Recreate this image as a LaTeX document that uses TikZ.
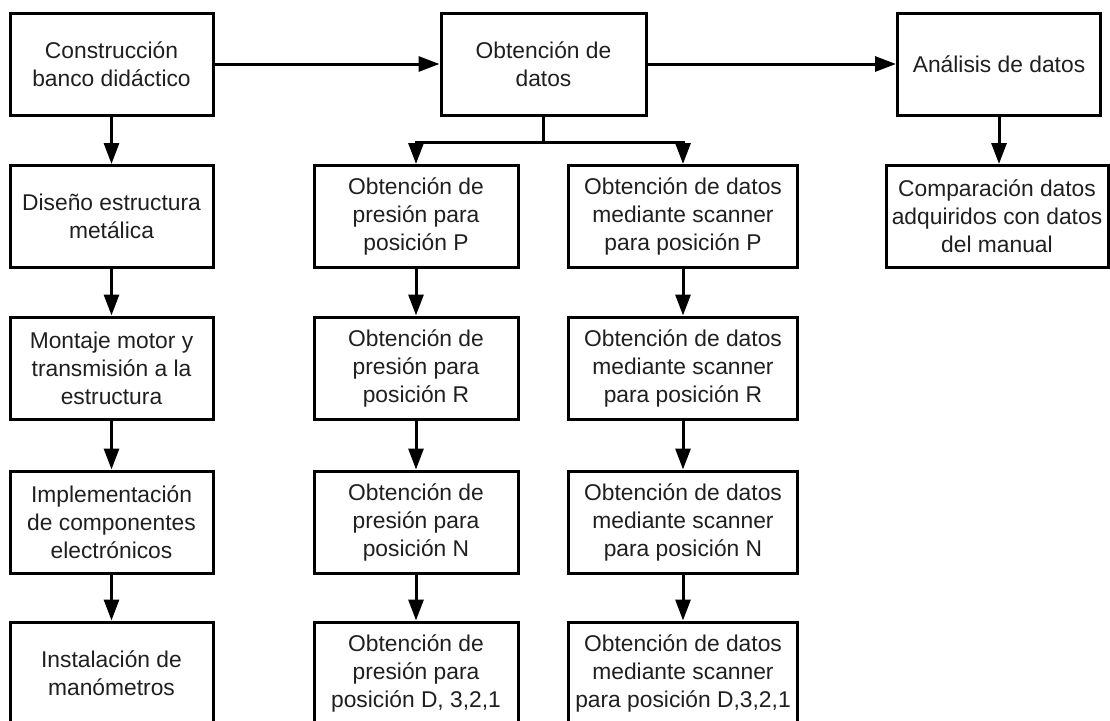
\documentclass[tikz,border=0pt]{standalone}
\usepackage{fontspec}
\setmainfont{Liberation Sans}
\usetikzlibrary{arrows.meta}
\begin{document}
\begin{tikzpicture}[x=1pt,y=-1pt,
  box/.style={draw=black, line width=3pt, align=center, inner sep=0pt,
    minimum height=102pt, text=black!88,
    font=\fontsize{22.8}{28}\selectfont},
  w1/.style={box, minimum width=203pt},
  w2/.style={box, minimum width=229pt},
  conn/.style={line width=3pt, line join=miter},
  arr/.style={conn, -{Triangle[length=21pt,width=15pt]}}
]
\useasboundingbox (0,0) rectangle (1110,720);
% top row
\node[w1] (cons) at (111.5,64) {Construcción\\banco didáctico};
\node[box, minimum width=205pt] (obt) at (543.5,64) {Obtención de\\datos};
\node[w1] (ana) at (999,64) {Análisis de datos};
% column 1
\node[w1] (dis) at (111.5,216.5) {Diseño estructura\\metálica};
\node[w1] (mon) at (111.5,368) {Montaje motor y\\transmisión a la\\estructura};
\node[w1] (imp) at (111.5,522) {Implementación\\de componentes\\electrónicos};
\node[w1] (ins) at (111.5,673) {Instalación de\\manómetros};
% column 2
\node[box, minimum width=204pt] (p1) at (416,216.5) {Obtención de\\presión para\\posición P};
\node[box, minimum width=204pt] (p2) at (416,368) {Obtención de\\presión para\\posición R};
\node[box, minimum width=204pt] (p3) at (416,522) {Obtención de\\presión para\\posición N};
\node[box, minimum width=204pt] (p4) at (416,673) {Obtención de\\presión para\\posición D, 3,2,1};
% column 3
\node[w2] (s1) at (683,216.5) {Obtención de datos\\mediante scanner\\para posición P};
\node[w2] (s2) at (683,368) {Obtención de datos\\mediante scanner\\para posición R};
\node[w2] (s3) at (683,522) {Obtención de datos\\mediante scanner\\para posición N};
\node[w2] (s4) at (683,673) {Obtención de datos\\mediante scanner\\para posición D,3,2,1};
% analysis
\node[box, minimum width=222pt] (cmp) at (997,216.5) {Comparación datos\\adquiridos con datos\\del manual};
% connectors
\draw[arr] (cons.east) -- (obt.west);
\draw[arr] (obt.east) -- (ana.west);
\draw[arr] (ana.south) -- (ana.south |- cmp.north);
\draw[arr] (cons) -- (dis);
\draw[arr] (dis) -- (mon);
\draw[arr] (mon) -- (imp);
\draw[arr] (imp) -- (ins);
\draw[conn] (obt.south) -- ++(0,26) coordinate (br);
\draw[arr] (br) -| (p1.north);
\draw[arr] (br) -| (s1.north);
\draw[arr] (p1) -- (p2);
\draw[arr] (p2) -- (p3);
\draw[arr] (p3) -- (p4);
\draw[arr] (s1) -- (s2);
\draw[arr] (s2) -- (s3);
\draw[arr] (s3) -- (s4);
\end{tikzpicture}
\end{document}
